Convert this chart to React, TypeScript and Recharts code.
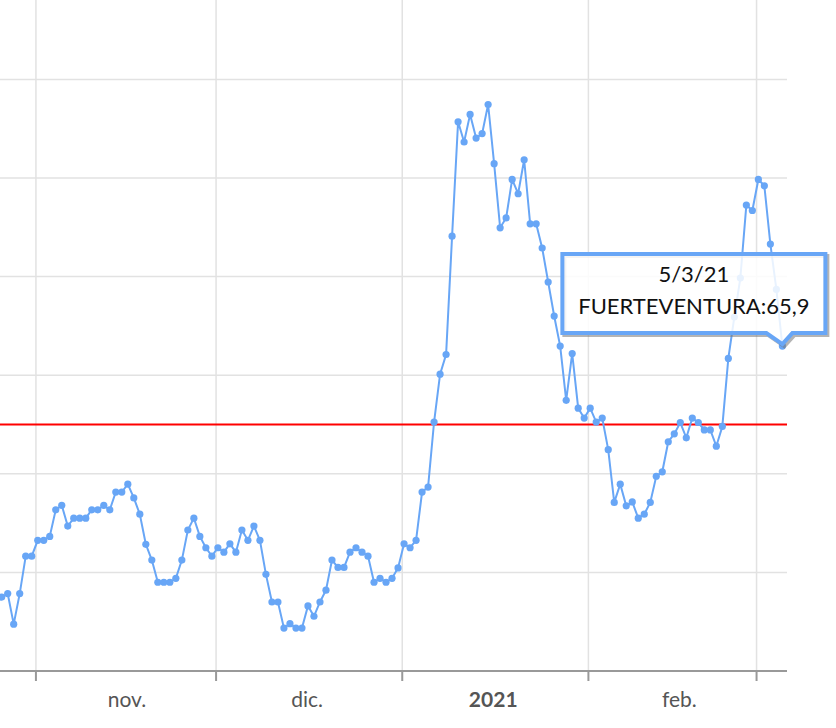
import { LineChart, Line, XAxis, YAxis, ReferenceLine } from "recharts";

// daily incidence, one value per day starting at startDate
const startDate = "2020-10-26";
const values = [
  15.0, 15.7, 9.5, 15.7, 23.3, 23.3, 26.5, 26.5, 27.3, 32.7,
  33.6, 29.4, 31.0, 31.0, 31.0, 32.7, 32.7, 33.6, 32.7, 36.3,
  36.3, 37.9, 35.1, 31.8, 25.7, 22.5, 18.0, 18.0, 18.0, 18.8,
  22.5, 28.6, 31.0, 27.3, 25.0, 23.3, 25.0, 24.1, 25.8, 24.1,
  28.6, 26.5, 29.4, 26.5, 19.6, 14.0, 14.0, 8.7, 9.6, 8.7,
  8.7, 13.2, 11.1, 14.0, 16.4, 22.5, 21.0, 21.0, 24.1, 25.0,
  24.1, 23.3, 18.0, 18.8, 18.0, 18.8, 20.9, 25.8, 25.0, 26.5,
  36.3, 37.3, 50.5, 60.2, 64.2, 88.2, 111.4, 107.3, 112.9, 108.1,
  109.0, 114.9, 102.9, 89.9, 91.9, 99.7, 96.8, 103.7, 90.7, 90.7,
  85.8, 78.9, 72.0, 65.9, 54.9, 64.4, 53.3, 51.3, 53.3, 50.5,
  51.3, 44.9, 34.2, 37.9, 33.5, 34.3, 31.0, 31.8, 34.2, 39.5,
  40.4, 46.5, 48.1, 50.4, 47.3, 51.3, 50.4, 48.9, 48.9, 45.6,
  49.6, 63.4, 71.8, 79.7, 94.5, 93.4, 99.7, 98.4, 86.6, 77.4,
  65.9,
];

const monthStarts = ["2020-11-01", "2020-12-01", "2021-01-01", "2021-02-01", "2021-03-01"];
const labelDates = ["2020-11-16", "2020-12-16", "2021-01-16", "2021-02-16"];
const labelNames = ["nov.", "dic.", "2021", "feb."];
const yTicks = [0, 20, 40, 60, 80, 100, 120];
const threshold = 50;

const seriesName = "FUERTEVENTURA";
const tooltipDate = "5/3/21";

const LINE_COLOR = "#68a6f6";
const GRID_COLOR = "#e2e2e2";
const DAY = 86400000;
const dayIndex = (d: string) => (Date.parse(d) - Date.parse(startDate)) / DAY;

const data = values.map((v, i) => ({ k: i, v }));
const gridTicks = monthStarts.map((d) => dayIndex(d) - 0.3);
const labelTicks = labelDates.map((d) => dayIndex(d) - 0.15);
const xDomain: [number, number] = [-0.283, 130.77];
const lastIndex = values.length - 1;
const lastPoint = [data[lastIndex]];

const NoLabel = () => <g />;

const MonthTick = (props: any) => {
  const { x, y, payload } = props;
  const i = labelTicks.findIndex((t) => Math.abs(t - payload.value) < 0.01);
  const name = labelNames[i] ?? "";
  return (
    <text
      x={x}
      y={y + 25}
      textAnchor="middle"
      fontFamily="Lato"
      fontSize={21}
      fontWeight={name === "2021" ? 700 : 400}
      fill="#555"
    >
      {name}
    </text>
  );
};

// static tooltip anchored on the point the label is attached to
const TooltipBox = (props: any) => {
  const cx = props.viewBox?.x ?? props.x;
  const cy = props.viewBox?.y ?? props.y;
  if (cx == null || cy == null) return null;
  const L = cx - 220;
  const R = cx + 43;
  const T = cy - 92;
  const B = cy - 13;
  const d = `M${L},${T} H${R} V${B} H${cx + 10} L${cx},${cy - 2} L${cx - 16},${B} H${L} Z`;
  const mid = (L + R) / 2;
  const v = values[lastIndex].toFixed(1).replace(".", ",");
  return (
    <g>
      <path d={d} transform="translate(2,2)" fill="none" stroke="#777" strokeOpacity={0.55} strokeWidth={4} />
      <path d={d} fill="#fff" fillOpacity={0.85} stroke={LINE_COLOR} strokeWidth={4} />
      <text x={mid} y={cy - 64} textAnchor="middle" fontFamily="Lato" fontSize={22} fill="#111">
        {tooltipDate}
      </text>
      <text x={mid} y={cy - 32} textAnchor="middle" fontFamily="Lato" fontSize={22} fill="#111">
        {`${seriesName}:${v}`}
      </text>
    </g>
  );
};

export default function App() {
  return (
    <div style={{ position: "absolute", left: 0, top: 0, background: "#fff" }}>
      <LineChart
        width={836}
        height={728}
        data={data}
        margin={{ top: 0, right: 49, bottom: 0, left: 0 }}
      >
        {yTicks.slice(1).map((t) => (
          <ReferenceLine key={`h${t}`} y={t} stroke={GRID_COLOR} strokeWidth={1.5} />
        ))}
        {gridTicks.map((t) => (
          <ReferenceLine key={`v${t}`} x={t} stroke={GRID_COLOR} strokeWidth={1.5} />
        ))}
        <XAxis
          dataKey="k"
          type="number"
          domain={xDomain}
          allowDataOverflow
          ticks={gridTicks}
          interval={0}
          tick={<NoLabel />}
          tickSize={10}
          tickLine={{ stroke: "#999", strokeWidth: 2 }}
          axisLine={{ stroke: "#999", strokeWidth: 2 }}
          height={11}
        />
        <XAxis
          xAxisId="lbl"
          dataKey="k"
          type="number"
          domain={xDomain}
          allowDataOverflow
          ticks={labelTicks}
          interval={0}
          tick={<MonthTick />}
          tickSize={0}
          tickMargin={0}
          tickLine={false}
          axisLine={false}
          height={46}
        />
        <YAxis hide type="number" domain={[0, 136.1]} allowDataOverflow ticks={yTicks} />
        <ReferenceLine y={threshold} stroke="#ff0000" strokeWidth={2} />
        <Line
          type="linear"
          dataKey="v"
          stroke={LINE_COLOR}
          strokeWidth={2}
          dot={{ r: 3.6, fill: LINE_COLOR, stroke: "none" }}
          activeDot={false}
          isAnimationActive={false}
        />
        <Line
          data={lastPoint}
          type="linear"
          dataKey="v"
          stroke="none"
          dot={{ r: 0 }}
          activeDot={false}
          label={<TooltipBox />}
          isAnimationActive={false}
        />
      </LineChart>
    </div>
  );
}
